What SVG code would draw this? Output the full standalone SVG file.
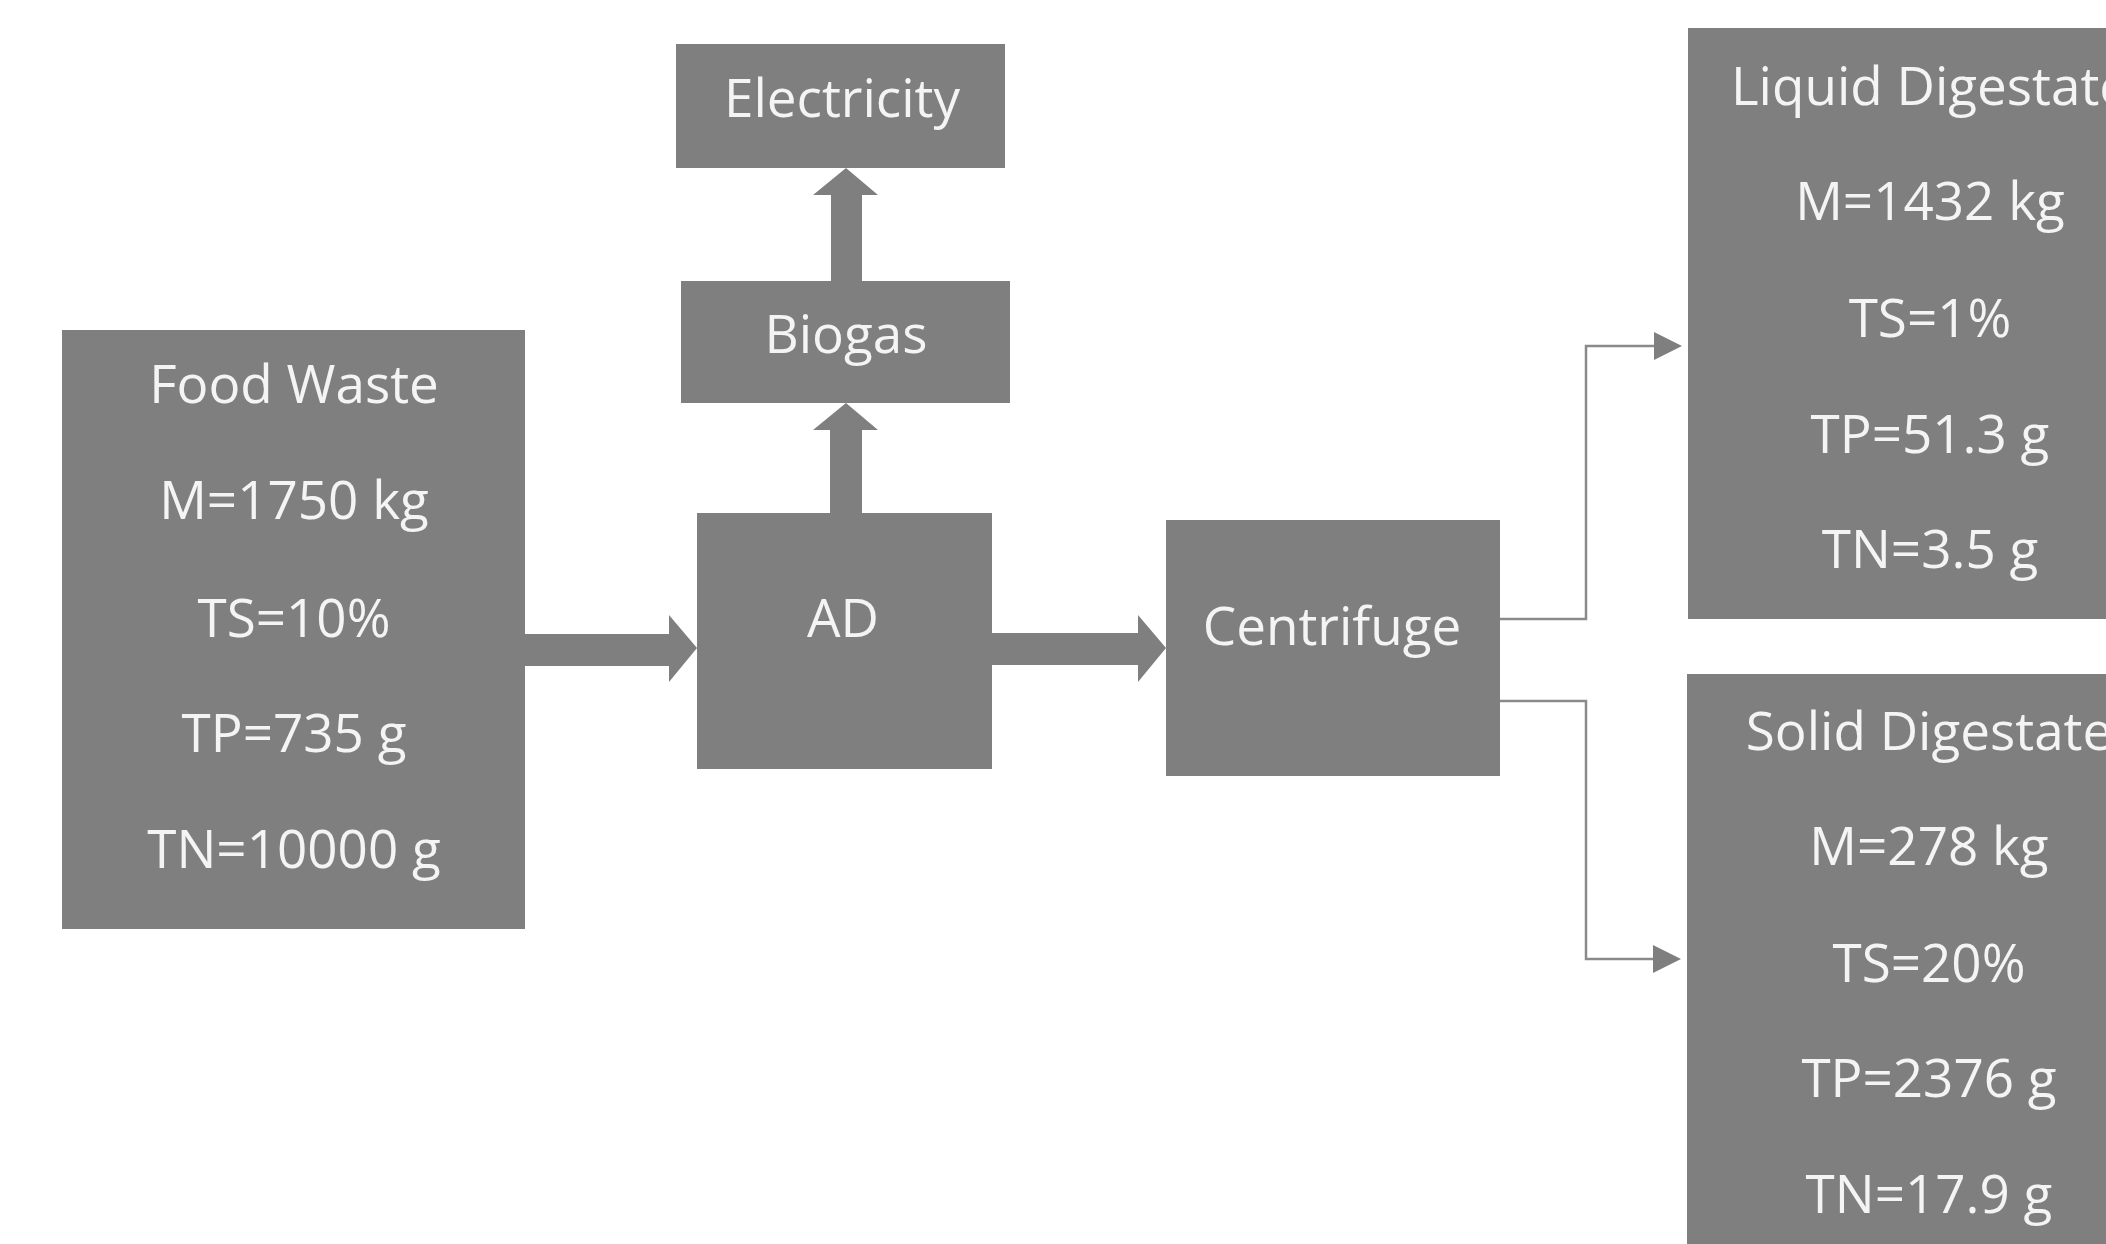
<svg xmlns="http://www.w3.org/2000/svg" width="2106" height="1244" viewBox="0 0 2106 1244">
<style>
.box{fill:#7f7f7f}
.t{font-family:"Open Sans","Liberation Sans",sans-serif;font-size:53px;fill:#f4f4f4;text-anchor:middle}
.blk{fill:#7f7f7f}
.ln{fill:none;stroke:#8a8a8a;stroke-width:2.5}
</style>
<rect width="2106" height="1244" fill="#ffffff"/>
<g id="connectors">
<polygon class="blk" points="525,634 669,634 669,615 697,648 669,682 669,666 525,666"/>
<polygon class="blk" points="992,633 1138,633 1138,615 1166,648 1138,682 1138,665 992,665"/>
<polygon class="blk" points="830,513 830,430 813,430 846,403 878,430 862,430 862,513"/>
<polygon class="blk" points="831,281 831,195 813,195 846,168 878,195 862,195 862,281"/>
<path class="ln" d="M1500,619 H1586 V346 H1656"/>
<polygon class="blk" points="1654,332 1682,346 1654,360"/>
<path class="ln" d="M1500,701 H1586 V959 H1656"/>
<polygon class="blk" points="1653,945 1681,959 1653,973"/>
</g>
<g id="food-waste">
<rect class="box" x="62" y="330" width="463" height="599"/>
<text class="t" x="294" y="403">Food Waste</text>
<text class="t" x="294" y="519">M=1750 kg</text>
<text class="t" x="294" y="637">TS=10%</text>
<text class="t" x="294" y="752">TP=735 g</text>
<text class="t" x="294" y="868">TN=10000 g</text>
</g>
<g id="electricity">
<rect class="box" x="676" y="44" width="329" height="124"/>
<text class="t" x="842" y="117">Electricity</text>
</g>
<g id="biogas">
<rect class="box" x="681" y="281" width="329" height="122"/>
<text class="t" x="846" y="353">Biogas</text>
</g>
<g id="ad">
<rect class="box" x="697" y="513" width="295" height="256"/>
<text class="t" x="843" y="637">AD</text>
</g>
<g id="centrifuge">
<rect class="box" x="1166" y="520" width="334" height="256"/>
<text class="t" x="1332" y="645">Centrifuge</text>
</g>
<g id="liquid-digestate">
<rect class="box" x="1688" y="28" width="480" height="591"/>
<text class="t" x="1930" y="105">Liquid Digestate</text>
<text class="t" x="1930" y="220">M=1432 kg</text>
<text class="t" x="1930" y="337">TS=1%</text>
<text class="t" x="1930" y="453">TP=51.3 g</text>
<text class="t" x="1930" y="568">TN=3.5 g</text>
</g>
<g id="solid-digestate">
<rect class="box" x="1687" y="674" width="480" height="600"/>
<text class="t" x="1929" y="750">Solid Digestate</text>
<text class="t" x="1929" y="865">M=278 kg</text>
<text class="t" x="1929" y="982">TS=20%</text>
<text class="t" x="1929" y="1097">TP=2376 g</text>
<text class="t" x="1929" y="1213">TN=17.9 g</text>
</g>
</svg>
